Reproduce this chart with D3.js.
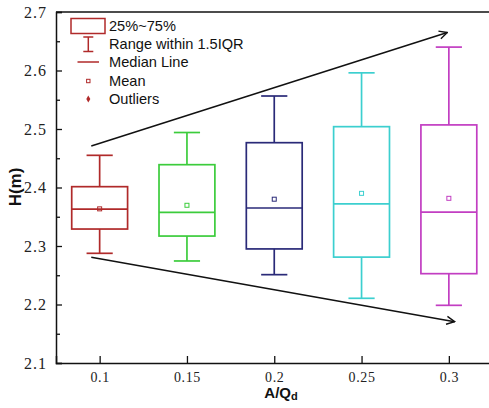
<!DOCTYPE html>
<html><head><meta charset="utf-8">
<script src="https://cdn.jsdelivr.net/npm/d3@7"></script>
<style>body{margin:0;background:#fff;} svg{display:block;}</style>
</head><body>
<svg id="c" width="489" height="408"></svg>
<script>
const categories = [0.1, 0.15, 0.2, 0.25, 0.3];
const whiskerLow  = [2.2875, 2.2744, 2.251, 2.2106, 2.1986];
const q1          = [2.329, 2.317, 2.295, 2.281, 2.2527];
const median      = [2.363, 2.3576, 2.365, 2.372, 2.358];
const mean        = [2.3635, 2.3696, 2.380, 2.390, 2.3815];
const q3          = [2.4014, 2.439, 2.4766, 2.504, 2.507];
const whiskerHigh = [2.455, 2.494, 2.5564, 2.596, 2.640];
const colors = ["#b02a2a", "#3ccc3c", "#2a2a78", "#3ccfcf", "#c23ec2"];
const yTicks = [2.1, 2.2, 2.3, 2.4, 2.5, 2.6, 2.7];
const yMinorTicks = [2.15, 2.25, 2.35, 2.45, 2.55, 2.65];
const xTickLabels = ["0.1", "0.15", "0.2", "0.25", "0.3"];
const legendLabels = ["25%~75%", "Range within 1.5IQR", "Median Line", "Mean", "Outliers"];
// trend arrows (data units): [x0,y0,x1,y1]
const arrowUp   = [0.0952, 2.471, 0.2991, 2.665];
const arrowDown = [0.0952, 2.2807, 0.3033, 2.1706];

const svg = d3.select("#c");
const L = 56, T = 12, B = 363, R = 492.5;
const x = d3.scaleLinear().domain([0.075, 0.325]).range([L, R]);
const y = d3.scaleLinear().domain([2.1, 2.7]).range([B, T]);
const serif = "'Liberation Serif', 'DejaVu Serif', serif";
const sans = "'Liberation Sans', Arial, sans-serif";

// frame: top line
svg.append("line").attr("x1", L).attr("x2", 489).attr("y1", T).attr("y2", T)
  .attr("stroke", "#111").attr("stroke-width", 1.5);

// y axis
const yAxis = d3.axisLeft(y).tickValues(yTicks).tickSize(-6).tickPadding(9)
  .tickFormat(d3.format(".1f"));
const gy = svg.append("g").attr("transform", `translate(${L},0)`).call(yAxis);
gy.select(".domain").attr("stroke", "#111").attr("stroke-width", 1.5);
gy.selectAll(".tick line").attr("stroke", "#111").attr("stroke-width", 1.3);
gy.selectAll(".tick text").style("font-family", serif)
  .style("font-size", "16px").attr("fill", "#222").style("letter-spacing", "1px");
const yMinor = d3.axisLeft(y).tickValues(yMinorTicks).tickSize(-4).tickFormat("");
const gym = svg.append("g").attr("transform", `translate(${L},0)`).call(yMinor);
gym.select(".domain").remove();
gym.selectAll(".tick line").attr("stroke", "#111").attr("stroke-width", 1.3);

// x axis
const xAxis = d3.axisBottom(x).tickValues(categories).tickSize(-7).tickPadding(9)
  .tickFormat((d, i) => xTickLabels[i]);
const gx = svg.append("g").attr("transform", `translate(0,${B})`).call(xAxis);
gx.select(".domain").attr("stroke", "#111").attr("stroke-width", 1.5);
gx.selectAll(".tick line").attr("stroke", "#111").attr("stroke-width", 1.3);
gx.selectAll(".tick text").style("font-family", serif)
  .style("font-size", "14px").attr("fill", "#222").style("letter-spacing", "0.6px");

// axis titles
const xt = svg.append("text").attr("x", 281).attr("y", 398).attr("text-anchor", "middle")
  .style("font-family", sans).attr("font-weight", "bold")
  .style("font-size", "15px").attr("fill", "#111");
xt.append("tspan").text("A/Q");
xt.append("tspan").text("d").style("font-size", "11px").attr("dy", 2);
svg.append("text").attr("transform", "translate(21,187) rotate(-90)").attr("text-anchor", "middle")
  .style("font-family", sans).attr("font-weight", "bold")
  .style("font-size", "17px").attr("fill", "#111").text("H(m)");

// boxes
const bw = (x(0.15) - x(0.1)) * 0.64;
const cw = (x(0.15) - x(0.1)) * 0.3;
const g = svg.append("g");
categories.forEach((c, i) => {
  const cx = x(c), col = colors[i];
  const gb = g.append("g").attr("stroke", col).attr("stroke-width", 1.7).attr("fill", "none");
  gb.append("line").attr("x1", cx).attr("x2", cx).attr("y1", y(whiskerHigh[i])).attr("y2", y(q3[i]));
  gb.append("line").attr("x1", cx).attr("x2", cx).attr("y1", y(q1[i])).attr("y2", y(whiskerLow[i]));
  gb.append("line").attr("x1", cx - cw / 2).attr("x2", cx + cw / 2).attr("y1", y(whiskerHigh[i])).attr("y2", y(whiskerHigh[i]));
  gb.append("line").attr("x1", cx - cw / 2).attr("x2", cx + cw / 2).attr("y1", y(whiskerLow[i])).attr("y2", y(whiskerLow[i]));
  gb.append("rect").attr("x", cx - bw / 2).attr("y", y(q3[i])).attr("width", bw).attr("height", y(q1[i]) - y(q3[i]));
  gb.append("line").attr("x1", cx - bw / 2).attr("x2", cx + bw / 2).attr("y1", y(median[i])).attr("y2", y(median[i]));
  gb.append("rect").attr("x", cx - 2).attr("y", y(mean[i]) - 2).attr("width", 4).attr("height", 4).attr("stroke-width", 1);
});

// arrows
const defs = svg.append("defs");
defs.append("marker").attr("id", "ah").attr("viewBox", "0 0 10 10").attr("refX", 9).attr("refY", 5)
  .attr("markerWidth", 10).attr("markerHeight", 10).attr("markerUnits", "userSpaceOnUse").attr("orient", "auto")
  .append("path").attr("d", "M1,1 L9,5 L1,9").attr("fill", "none").attr("stroke", "#111").attr("stroke-width", 1.4);
[arrowUp, arrowDown].forEach(a => {
  svg.append("line").attr("x1", x(a[0])).attr("y1", y(a[1])).attr("x2", x(a[2])).attr("y2", y(a[3]))
    .attr("stroke", "#111").attr("stroke-width", 1.5).attr("marker-end", "url(#ah)");
});

// legend
const lc = "#b02a2a";
const lg = svg.append("g");
const rowY = [26, 44, 62, 81, 99];
const ix = 88.3;
lg.append("rect").attr("x", 71).attr("y", 18.5).attr("width", 34).attr("height", 15)
  .attr("fill", "none").attr("stroke", lc).attr("stroke-width", 1.5);
lg.append("line").attr("x1", ix).attr("x2", ix).attr("y1", 37).attr("y2", 51.5).attr("stroke", lc).attr("stroke-width", 1.5);
lg.append("line").attr("x1", ix - 5).attr("x2", ix + 5).attr("y1", 37).attr("y2", 37).attr("stroke", lc).attr("stroke-width", 1.5);
lg.append("line").attr("x1", ix - 5).attr("x2", ix + 5).attr("y1", 51.5).attr("y2", 51.5).attr("stroke", lc).attr("stroke-width", 1.5);
lg.append("line").attr("x1", 77.5).attr("x2", 99).attr("y1", rowY[2]).attr("y2", rowY[2]).attr("stroke", lc).attr("stroke-width", 1.5);
lg.append("rect").attr("x", ix - 1.7).attr("y", rowY[3] - 1.7).attr("width", 3.4).attr("height", 3.4)
  .attr("fill", "none").attr("stroke", lc).attr("stroke-width", 1);
lg.append("path").attr("d", d3.symbol(d3.symbolDiamond, 14)()).attr("transform", `translate(${ix},${rowY[4]})`).attr("fill", lc);
legendLabels.forEach((t, i) => {
  lg.append("text").attr("x", 109).attr("y", rowY[i]).attr("dy", "0.35em")
    .style("font-family", sans).style("font-size", "14.6px").attr("fill", "#111").text(t);
});
</script>
</body></html>
